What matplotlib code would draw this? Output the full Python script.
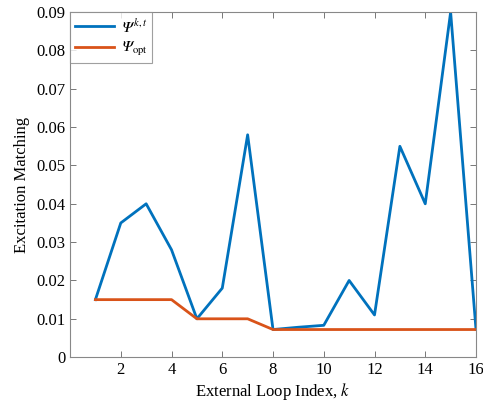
import matplotlib

matplotlib.use("Agg")
from matplotlib import pyplot as plt

loop_index = list(range(1, 17))
psi_kt = [0.015, 0.035, 0.040, 0.028, 0.010, 0.018, 0.058, 0.0072,
          0.0078, 0.0083, 0.020, 0.011, 0.055, 0.040, 0.090, 0.0072]
psi_opt = [0.015, 0.015, 0.015, 0.015, 0.010, 0.010, 0.010, 0.0072,
           0.0072, 0.0072, 0.0072, 0.0072, 0.0072, 0.0072, 0.0072, 0.0072]
x_ticks = [2, 4, 6, 8, 10, 12, 14, 16]
y_ticks = [0, 0.01, 0.02, 0.03, 0.04, 0.05, 0.06, 0.07, 0.08, 0.09]

plt.rcParams["font.family"] = ["Liberation Serif", "DejaVu Serif"]
plt.rcParams["mathtext.fontset"] = "stix"

figure = plt.figure(figsize=(4.83, 4.04), dpi=100)
axis = figure.add_axes([0.145, 0.116, 0.8405, 0.854])
axis.plot(loop_index, psi_kt, color="#0072BD", linewidth=2.0,
          label="$\U0001D6F9^{k,t}$")
axis.plot(loop_index, psi_opt, color="#D95319", linewidth=2.0,
          label="$\U0001D6F9_{\\mathrm{opt}}$")

axis.set_xlim(0, 16)
axis.set_ylim(0, 0.09)
axis.set_xticks(x_ticks)
axis.set_yticks(y_ticks)
axis.set_yticklabels(["0"] + [f"{v:.2f}" for v in y_ticks[1:]])
axis.tick_params(direction="in", top=True, right=True, labelsize=12, length=4,
                 color="#777777", width=0.7)
for spine in axis.spines.values():
    spine.set_color("#888888")
    spine.set_linewidth(0.8)

axis.set_xlabel(r"External Loop Index, $k$", fontsize=12, labelpad=2)
axis.set_ylabel("Excitation Matching", fontsize=12, labelpad=4)
legend = axis.legend(loc="upper left", fontsize=11, frameon=True, fancybox=False,
                     borderaxespad=0.0, handlelength=2.6, handletextpad=0.5,
                     borderpad=0.3, labelspacing=0.35, edgecolor="#888888")
legend.get_frame().set_linewidth(0.8)

figure.savefig("out.png", dpi=100)
plt.close(figure)
